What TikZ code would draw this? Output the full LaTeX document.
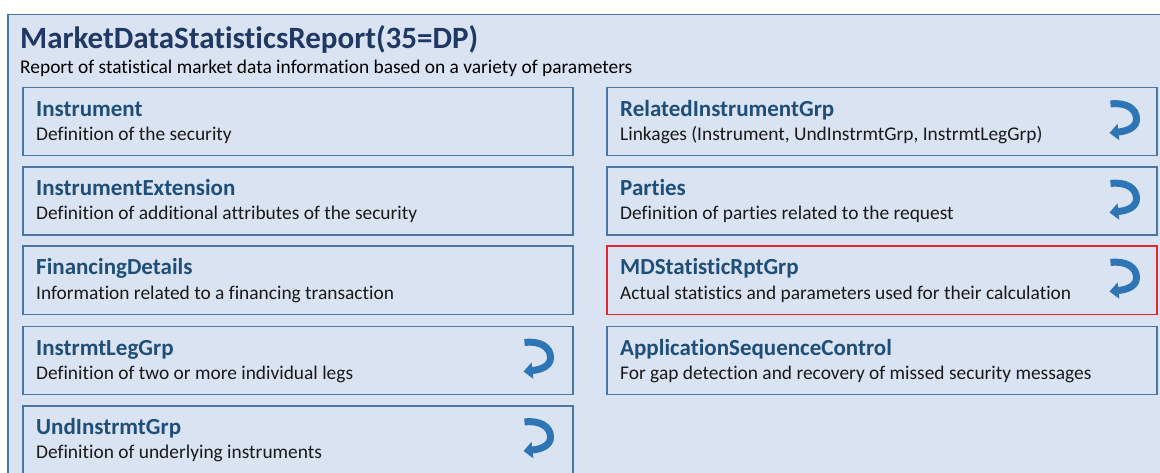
\documentclass[tikz,border=0pt]{standalone}
\usepackage{fontspec}
\setmainfont{Carlito}[RawFeature={-liga}]
\usetikzlibrary{arrows.meta,calc}
\definecolor{bgblue}{HTML}{DAE3F1}
\definecolor{frameblue}{HTML}{4A76A6}
\definecolor{titleblue}{HTML}{1F3864}
\definecolor{headblue}{HTML}{1F4E79}
\definecolor{iconblue}{HTML}{2E75B6}
\definecolor{alertred}{HTML}{E8242C}
\tikzset{
  outerbox/.style={draw=frameblue, line width=1.5pt, fill=bgblue, inner sep=0pt},
  grpbox/.style={draw=frameblue, line width=1.5pt, fill=bgblue, minimum width=550pt, minimum height=68pt, inner sep=0pt},
  redgrpbox/.style={grpbox, draw=alertred},
  titletext/.style={inner sep=0pt, text=titleblue, font=\fontsize{31}{35}\selectfont\bfseries},
  subtext/.style={inner sep=0pt, text=black, font=\fontsize{19.4}{23}\selectfont},
  headtext/.style={inner sep=0pt, text=headblue, font=\fontsize{23}{27}\selectfont\bfseries},
  desctext/.style={inner sep=0pt, text=black!90, font=\fontsize{19.4}{23}\selectfont},
  repeaticon/.pic={
    \draw[iconblue, line width=7pt, -{Triangle[length=9pt,width=16pt]}]
      (-14,-15) .. controls (2,-17) and (12,-10) .. (12,0)
      .. controls (12,8) and (4,12) .. (-15,14);
  }
}
\newcommand{\mkgroup}[6]{%
  \node[#4, anchor=north west] (#1) at (#2,#3) {};
  \node[headtext, anchor=base west] (#1-head) at ($(#1.north west)+(14,29.5)$) {#5};
  \node[desctext, anchor=base west] (#1-desc) at ($(#1.north west)+(14,53.5)$) {#6};
}
\begin{document}
\begin{tikzpicture}[x=1pt,y=-1pt]
\useasboundingbox (0,0) rectangle (1160,473);
\fill[white] (0,0) rectangle (1160,473);
\clip (0,0) rectangle (1160,473);
\node[outerbox, minimum width=1175pt, minimum height=480pt, anchor=north west] (report) at (7,14) {};
\node[titletext, anchor=base west] (title) at (20,49) {MarketDataStatisticsReport(35=DP)};
\node[subtext, anchor=base west] (subtitle) at (20,74) {Report of statistical market data information based on a variety of parameters};
% left column
\mkgroup{instrument}{22}{87}{grpbox}{Instrument}{Definition of the security}
\mkgroup{instrext}{22}{166.5}{grpbox}{InstrumentExtension}{Definition of additional attributes of the security}
\mkgroup{financing}{22}{245.5}{grpbox}{FinancingDetails}{Information related to a financing transaction}
\mkgroup{leggrp}{22}{325.5}{grpbox}{InstrmtLegGrp}{Definition of two or more individual legs}
\mkgroup{undgrp}{22}{405}{grpbox}{UndInstrmtGrp}{Definition of underlying instruments}
% right column
\mkgroup{relgrp}{606}{87}{grpbox}{RelatedInstrumentGrp}{Linkages (Instrument, UndInstrmtGrp, InstrmtLegGrp)}
\mkgroup{parties}{606}{166.5}{grpbox}{Parties}{Definition of parties related to the request}
\mkgroup{mdstat}{606}{245.5}{redgrpbox}{MDStatisticRptGrp}{Actual statistics and parameters used for their calculation}
\mkgroup{appseq}{606}{325.5}{grpbox}{ApplicationSequenceControl}{For gap detection and recovery of missed security messages}
% repeating-group icons
\pic at ($(leggrp.north east)+(-35,32)$) {repeaticon};
\pic at ($(undgrp.north east)+(-35,32)$) {repeaticon};
\pic at ($(relgrp.north east)+(-33,32)$) {repeaticon};
\pic at ($(parties.north east)+(-33,32)$) {repeaticon};
\pic at ($(mdstat.north east)+(-33,32)$) {repeaticon};
\end{tikzpicture}
\end{document}
